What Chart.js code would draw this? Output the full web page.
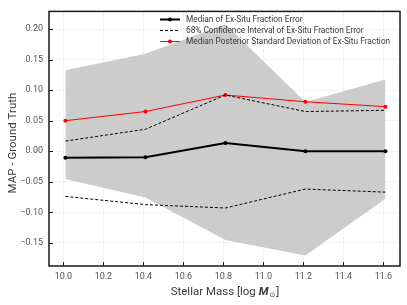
<!DOCTYPE html>
<html>
<head>
<meta charset="utf-8">
<script src="https://cdn.jsdelivr.net/npm/chart.js@4.4.1/dist/chart.umd.min.js"></script>
<style>
  html, body { margin: 0; padding: 0; background: #fff; }
  #wrap { width: 407px; height: 305px; position: relative; }
</style>
</head>
<body>
<div id="wrap"><canvas id="chart"></canvas></div>
<script>
// Valores
const masses = [10.01, 10.41, 10.81, 11.21, 11.61];
const medianErr = [-0.0107, -0.0100, 0.0134, 0.0000, 0.0000];
const ciUpper = [0.0166, 0.0360, 0.0920, 0.0650, 0.0670];
const ciLower = [-0.0740, -0.0875, -0.0930, -0.0620, -0.0670];
const posteriorStd = [0.0500, 0.0650, 0.0920, 0.0810, 0.0730];
const bandUpper = [0.1326, 0.1595, 0.2080, 0.0806, 0.1176];
const bandLower = [-0.0457, -0.0757, -0.1455, -0.1710, -0.0780];

const xTicks = [10.0, 10.2, 10.4, 10.6, 10.8, 11.0, 11.2, 11.4, 11.6];
const yTicks = [-0.15, -0.10, -0.05, 0.00, 0.05, 0.10, 0.15, 0.20];
const legendLabels = [
    'Median of Ex-Situ Fraction Error',
    '68% Confidence Interval of Ex-Situ Fraction Error',
    'Median Posterior Standard Deviation of Ex-Situ Fraction'
];
const yTitle = 'MAP - Ground Truth';

const FONT = 'Roboto, "DejaVu Sans", sans-serif';

function pts(ys) { return masses.map((m, i) => ({ x: m, y: ys[i] })); }
function fmtMinus(s) { return s.replace('-', '\u2212'); }

// moldura + ticks para dentro, legenda e títulos
const decorPlugin = {
    id: 'decor',
    afterDatasetsDraw(chart) {
        const { ctx, chartArea: a, scales: { x, y } } = chart;
        ctx.save();
        ctx.strokeStyle = '#1a1a1a';
        ctx.lineWidth = 1.5;
        ctx.strokeRect(a.left, a.top, a.right - a.left, a.bottom - a.top);
        ctx.lineWidth = 1;
        ctx.beginPath();
        xTicks.forEach(v => {
            const px = Math.round(x.getPixelForValue(v)) + 0.5;
            ctx.moveTo(px, a.bottom); ctx.lineTo(px, a.bottom - 4);
        });
        yTicks.forEach(v => {
            const py = Math.round(y.getPixelForValue(v)) + 0.5;
            ctx.moveTo(a.left, py); ctx.lineTo(a.left + 4, py);
        });
        ctx.stroke();

        // legenda
        const lx = 160, rows = [19, 30, 41];
        ctx.font = '8.3px ' + FONT;
        ctx.textBaseline = 'middle';
        ctx.textAlign = 'left';
        rows.forEach((ry, i) => {
            ctx.beginPath();
            if (i === 0) { ctx.strokeStyle = '#000'; ctx.lineWidth = 2; ctx.setLineDash([]); }
            if (i === 1) { ctx.strokeStyle = '#000'; ctx.lineWidth = 1; ctx.setLineDash([3, 2]); }
            if (i === 2) { ctx.strokeStyle = '#ff0000'; ctx.lineWidth = 1; ctx.setLineDash([]); }
            ctx.moveTo(lx, ry + 0.5); ctx.lineTo(lx + 20, ry + 0.5);
            ctx.stroke();
            ctx.setLineDash([]);
            if (i !== 1) {
                ctx.fillStyle = i === 0 ? '#000' : '#ff0000';
                ctx.beginPath(); ctx.arc(lx + 10, ry + 0.5, 2, 0, Math.PI * 2); ctx.fill();
            }
            ctx.fillStyle = '#3a3a3a';
            ctx.fillText(legendLabels[i], lx + 26, ry + 0.5);
        });

        // título eixo y
        ctx.fillStyle = '#3a3a3a';
        ctx.font = '11.5px ' + FONT;
        ctx.textAlign = 'center';
        ctx.save();
        ctx.translate(13, 143);
        ctx.rotate(-Math.PI / 2);
        ctx.fillText(yTitle, 0, 0);
        ctx.restore();

        // título eixo x com M itálico e subscrito
        const parts = [
            { t: 'Stellar Mass [log ', f: '11.5px ' + FONT, dy: 0 },
            { t: 'M', f: 'italic bold 11.5px ' + FONT, dy: 0 },
            { t: '\u2299', f: '7px "DejaVu Sans", sans-serif', dy: 3 },
            { t: ']', f: '11.5px ' + FONT, dy: 0 }
        ];
        let total = 0;
        parts.forEach(p => { ctx.font = p.f; p.w = ctx.measureText(p.t).width; total += p.w + (p.t === '\u2299' ? 2 : 0); });
        let cx = 225 - total / 2;
        ctx.textAlign = 'left';
        parts.forEach(p => {
            ctx.font = p.f;
            ctx.fillText(p.t, cx + (p.t === '\u2299' ? 1 : 0), 292 + p.dy);
            cx += p.w + (p.t === '\u2299' ? 2 : 0);
        });
        ctx.restore();
    }
};

const chart = new Chart(document.getElementById('chart'), {
    type: 'line',
    data: {
        datasets: [
            {
                label: legendLabels[0], data: pts(medianErr),
                borderColor: '#000', backgroundColor: '#000', borderWidth: 2,
                pointRadius: 2, pointBorderWidth: 0, fill: false
            },
            {
                label: legendLabels[1], data: pts(ciUpper),
                borderColor: '#000', borderWidth: 1, borderDash: [3, 2],
                pointRadius: 0, fill: false
            },
            {
                label: 'lower', data: pts(ciLower),
                borderColor: '#000', borderWidth: 1, borderDash: [3, 2],
                pointRadius: 0, fill: false
            },
            {
                label: legendLabels[2], data: pts(posteriorStd),
                borderColor: '#ff0000', backgroundColor: '#ff0000', borderWidth: 1,
                pointRadius: 2, pointBorderWidth: 0, fill: false
            },
            {
                label: 'band upper', data: pts(bandUpper),
                borderWidth: 0, borderColor: 'rgba(0,0,0,0)', backgroundColor: '#cccccc',
                pointRadius: 0, fill: '+1'
            },
            {
                label: 'band lower', data: pts(bandLower),
                borderWidth: 0, borderColor: 'rgba(0,0,0,0)',
                pointRadius: 0, fill: false
            }
        ]
    },
    options: {
        responsive: true,
        maintainAspectRatio: false,
        animation: false,
        layout: { padding: { left: 0, top: 7, right: 7, bottom: 0 } },
        plugins: { legend: { display: false }, tooltip: { enabled: false } },
        elements: { line: { tension: 0 } },
        scales: {
            x: {
                type: 'linear', min: 9.928, max: 11.683,
                afterBuildTicks: s => { s.ticks = xTicks.map(v => ({ value: v })); },
                afterFit: s => { s.height = 39; },
                grid: { color: '#f2f2f2', drawTicks: false },
                border: { display: false },
                ticks: {
                    padding: 5, color: '#555', font: { family: FONT, size: 9 },
                    callback: v => Number(v).toFixed(1)
                }
            },
            y: {
                min: -0.188, max: 0.229,
                afterBuildTicks: s => { s.ticks = yTicks.map(v => ({ value: v })); },
                afterFit: s => { s.width = 49; },
                grid: { color: '#f2f2f2', drawTicks: false },
                border: { display: false },
                ticks: {
                    padding: 6, color: '#555', font: { family: FONT, size: 9 },
                    callback: v => fmtMinus(Number(v).toFixed(2))
                }
            }
        }
    },
    plugins: [decorPlugin]
});
</script>
</body>
</html>
